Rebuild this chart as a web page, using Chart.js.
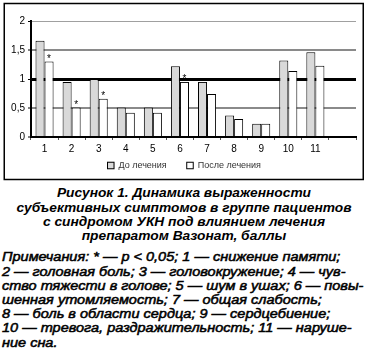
<!DOCTYPE html>
<html>
<head>
<meta charset="utf-8">
<script src="https://cdn.jsdelivr.net/npm/chart.js@4.4.1/dist/chart.umd.min.js"></script>
<style>
  html, body { margin: 0; padding: 0; background: #fff; }
  body { width: 373px; height: 356px; position: relative; overflow: hidden; }
  #c { position: absolute; left: 0; top: 0; }
  .cap { position: absolute; left: 0; width: 368px; text-align: center;
         font-family: "Liberation Sans", Arial, sans-serif; font-weight: bold; font-style: italic;
         font-size: 12.5px; line-height: 14.2px; color: #000; white-space: pre;
         transform: scaleX(1.1); transform-origin: 184px 0; }
  .note { position: absolute; left: 1.5px; font-family: "Liberation Sans", Arial, sans-serif;
          font-style: italic; font-weight: normal; font-size: 12.5px; line-height: 14.2px;
          color: #000; white-space: pre; -webkit-text-stroke: 0.5px #000;
          transform: scaleX(1.16); transform-origin: 0 0; }
</style>
</head>
<body>
<canvas id="c" width="373" height="185"></canvas>
<div class="cap" style="top:186.3px">Рисунок 1. Динамика выраженности
субъективных симптомов в группе пациентов
с синдромом УКН под влиянием лечения
препаратом Вазонат, баллы</div>
<div class="note" style="top:250.3px">Примечания: * — p &lt; 0,05; 1 — снижение памяти;
2 — головная боль; 3 — головокружение; 4 — чув-
ство тяжести в голове; 5 — шум в ушах; 6 — повы-
шенная утомляемость; 7 — общая слабость;
8 — боль в области сердца; 9 — сердцебиение;
10 — тревога, раздражительность; 11 — наруше-
ние сна.</div>
<script>
const categories = ['1', '2', '3', '4', '5', '6', '7', '8', '9', '10', '11', ''];
const seriesNames = ['До лечения', 'После лечения'];
const beforeTreatment = [1.66, 0.95, 1.00, 0.51, 0.51, 1.22, 0.95, 0.37, 0.23, 1.32, 1.46];
const afterTreatment  = [1.30, 0.51, 0.66, 0.42, 0.42, 0.95, 0.74, 0.31, 0.23, 1.14, 1.23];
const significance    = ['*', '*', '*', '', '', '*', '', '', '', '', ''];
const yTickLabels = ['0', '0,5', '1', '1,5', '2'];

const frameAndLegend = {
  id: 'frameAndLegend',
  afterDraw(chart) {
    const ctx = chart.ctx;
    ctx.save();
    // frame
    ctx.strokeStyle = '#000';
    ctx.lineWidth = 1.5;
    ctx.strokeRect(4.25, 3.5, 359, 176);
    // significance marks
    const meta = chart.getDatasetMeta(1);
    ctx.fillStyle = '#000';
    ctx.font = '10px "Liberation Sans", Arial, sans-serif';
    ctx.textAlign = 'center';
    ctx.textBaseline = 'alphabetic';
    significance.forEach((s, i) => {
      if (!s) return;
      const el = meta.data[i];
      ctx.fillText(s, el.x, el.y + 0.5);
    });
    // legend
    ctx.font = '9px "Liberation Sans", Arial, sans-serif';
    ctx.textAlign = 'left';
    ctx.textBaseline = 'middle';
    const box = 7.5, gap = 4, itemGap = 19.5;
    const items = chart.data.datasets.map(d => ({ text: d.label, fill: d.backgroundColor, w: ctx.measureText(d.label).width }));
    let total = 0;
    items.forEach((it, i) => { total += box + gap + it.w + (i < items.length - 1 ? itemGap : 0); });
    let x = 184 - total / 2;
    const cy = 165.5;
    items.forEach(it => {
      ctx.fillStyle = it.fill;
      ctx.fillRect(x, cy - box / 2, box, box);
      ctx.lineWidth = 1;
      ctx.strokeStyle = '#000';
      ctx.strokeRect(x + 0.5, cy - box / 2 + 0.5, box - 1, box - 1);
      ctx.fillStyle = '#333';
      ctx.fillText(it.text, x + box + gap, cy + 0.5);
      x += box + gap + it.w + itemGap;
    });
    ctx.restore();
  }
};

new Chart(document.getElementById('c'), {
  type: 'bar',
  data: {
    labels: categories,
    datasets: [
      { label: seriesNames[0], data: beforeTreatment, backgroundColor: '#d9d9d9', borderColor: '#000', borderWidth: 1 },
      { label: seriesNames[1], data: afterTreatment, backgroundColor: '#ffffff', borderColor: '#000', borderWidth: 1 }
    ]
  },
  options: {
    responsive: false,
    animation: false,
    devicePixelRatio: 1,
    layout: { padding: { left: 5, right: 17, top: 21, bottom: 28 } },
    datasets: { bar: { categoryPercentage: 0.667, barPercentage: 1.0 } },
    plugins: { legend: { display: false }, tooltip: { enabled: false } },
    scales: {
      x: {
        afterFit(scale) { scale.height = 20; },
        grid: { display: true, drawOnChartArea: false, drawTicks: true, tickLength: 3, color: '#555', lineWidth: 1 },
        border: { display: true, color: '#000', width: 2 },
        ticks: { color: '#000', padding: 3, font: { size: 10, family: '"Liberation Sans", Arial, sans-serif' }, maxRotation: 0, autoSkip: false }
      },
      y: {
        min: 0, max: 2,
        afterFit(scale) { scale.width = 26; },
        grid: {
          color: (c) => { const v = c.tick && c.tick.value; return (v === 1 || v === 0) ? '#000' : (v === 2 ? '#a0a0a0' : '#8a8a8a'); },
          lineWidth: (c) => { const v = c.tick && c.tick.value; return v === 1 ? 3 : (v === 2 ? 1 : 2); },
          tickLength: 3, tickColor: '#000', tickWidth: 1
        },
        border: { display: true, color: '#000', width: 2 },
        ticks: {
          stepSize: 0.5, padding: 3, color: '#000',
          font: { size: 10, family: '"Liberation Sans", Arial, sans-serif' },
          callback: (v, i) => yTickLabels[i]
        }
      }
    }
  },
  plugins: [frameAndLegend]
});
</script>
</body>
</html>
